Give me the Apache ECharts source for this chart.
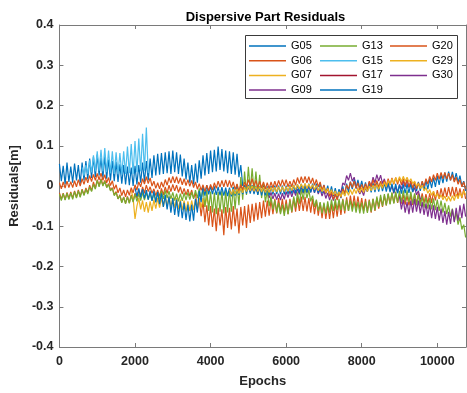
<!DOCTYPE html>
<html>
<head>
<meta charset="utf-8">
<script src="https://cdn.jsdelivr.net/npm/echarts@6/dist/echarts.min.js"></script>
<style>
  html, body { margin: 0; padding: 0; background: #fff; }
  #chart { width: 467px; height: 393px; }
</style>
</head>
<body>
<div id="chart"></div>
<script>
// Sampling grid (epochs) shared by every satellite track
const epochs = [
  0,50,100,150,200,250,300,350,400,450,500,550,600,650,700,750,800,850,900,950,
  1000,1050,1100,1150,1200,1250,1300,1350,1400,1450,1500,1550,1600,1650,1700,1750,1800,1850,1900,1950,
  2000,2050,2100,2150,2200,2250,2300,2350,2400,2450,2500,2550,2600,2650,2700,2750,2800,2850,2900,2950,
  3000,3050,3100,3150,3200,3250,3300,3350,3400,3450,3500,3550,3600,3650,3700,3750,3800,3850,3900,3950,
  4000,4050,4100,4150,4200,4250,4300,4350,4400,4450,4500,4550,4600,4650,4700,4750,4800,4850,4900,4950,
  5000,5050,5100,5150,5200,5250,5300,5350,5400,5450,5500,5550,5600,5650,5700,5750,5800,5850,5900,5950,
  6000,6050,6100,6150,6200,6250,6300,6350,6400,6450,6500,6550,6600,6650,6700,6750,6800,6850,6900,6950,
  7000,7050,7100,7150,7200,7250,7300,7350,7400,7450,7500,7550,7600,7650,7700,7750,7800,7850,7900,7950,
  8000,8050,8100,8150,8200,8250,8300,8350,8400,8450,8500,8550,8600,8650,8700,8750,8800,8850,8900,8950,
  9000,9050,9100,9150,9200,9250,9300,9350,9400,9450,9500,9550,9600,9650,9700,9750,9800,9850,9900,9950,
  10000,10050,10100,10150,10200,10250,10300,10350,10400,10450,10500,10550,10600,10650,10700,10750
];

// Residuals [m] per satellite; each list starts at the given epoch
const g05Start = 0;
const g05 = [
  0.055,0.012,0.050,0.004,0.058,0.010,0.048,0.008,0.056,0.014,
  0.052,0.006,0.058,0.014,0.062,0.016,0.068,0.020,0.072,0.022,
  0.078,0.026,0.070,0.020,0.074,0.018,0.066,0.014,0.062,0.012,
  0.060,0.010,0.054,0.006,0.052,0.004,0.048,0.002,0.046,0.000,
  0.050,0.004,0.052,0.008,0.058,0.010,0.062,0.014,0.068,0.020,
  0.076,0.026,0.080,0.028,0.082,0.030,0.084,0.032,0.086,0.030,
  0.088,0.034,0.084,0.030,0.078,0.024,0.068,0.016,0.058,0.008,
  0.052,0.004,0.056,0.008,0.064,0.018,0.076,0.026,0.082,0.030,
  0.088,0.034,0.090,0.036,0.098,0.040,0.092,0.036,0.088,0.032,
  0.086,0.030,0.084,0.028,0.080,0.022,0.052,0.000];

const g06Start = 0;
const g06 = [
  -0.017,-0.033,-0.018,-0.034,-0.016,-0.031,-0.015,-0.030,-0.012,-0.028,
  -0.010,-0.026,-0.008,-0.022,-0.005,-0.017,0.002,-0.012,0.010,-0.006,
  0.016,0.000,0.018,0.002,0.014,-0.003,0.006,-0.010,-0.004,-0.022,
  -0.014,-0.032,-0.022,-0.040,-0.027,-0.043,-0.026,-0.042,-0.022,-0.038,
  -0.018,-0.030,-0.012,-0.024,-0.002,-0.018,0.002,-0.014,-0.002,-0.018,
  -0.007,-0.024,-0.010,-0.026,-0.006,-0.022,-0.002,-0.018,0.002,-0.014,
  0.004,-0.012,0.002,-0.016,-0.002,-0.020,-0.006,-0.022,-0.008,-0.025,
  -0.010,-0.030,-0.018,-0.058,-0.032,-0.075,-0.038,-0.090,-0.048,-0.098,
  -0.050,-0.102,-0.056,-0.112,-0.054,-0.098,-0.058,-0.122,-0.052,-0.104,
  -0.054,-0.108,-0.050,-0.100,-0.056,-0.118,-0.052,-0.098,-0.050,-0.104,
  -0.046,-0.092,-0.044,-0.088,-0.042,-0.084,-0.040,-0.080,-0.036,-0.076,
  -0.036,-0.074,-0.034,-0.070,-0.032,-0.068,-0.030,-0.066,-0.032,-0.068,
  -0.034,-0.070,-0.032,-0.066,-0.030,-0.064,-0.028,-0.062,-0.026,-0.062,
  -0.027,-0.063,-0.030,-0.066,-0.032,-0.070,-0.036,-0.074,-0.042,-0.080,
  -0.044,-0.082,-0.046,-0.082,-0.044,-0.080,-0.042,-0.076,-0.038,-0.072,
  -0.032,-0.068,-0.028,-0.062,-0.024,-0.056,-0.024,-0.056,-0.026,-0.058,
  -0.030,-0.062,-0.032,-0.064,-0.034,-0.066,-0.032,-0.062,-0.030,-0.056,
  -0.028,-0.052,-0.024,-0.048,-0.020,-0.044,-0.018,-0.042,-0.018,-0.042,
  -0.020,-0.044,-0.022,-0.046,-0.024,-0.048,-0.023,-0.047,-0.021,-0.044,
  -0.018,-0.042,-0.018,-0.042,-0.020,-0.044,-0.018,-0.042,-0.014,-0.036,
  -0.010,-0.032,-0.006,-0.028,-0.004,-0.027,-0.003,-0.026,-0.002,-0.026,
  -0.003,-0.027,-0.006,-0.030,-0.008,-0.032];

const g07Start = 1900;
const g07 = [
  -0.010,-0.030,-0.082,-0.050,-0.030,-0.058,-0.036,-0.064,-0.040,-0.066,
  -0.038,-0.062,-0.034,-0.056,-0.030,-0.054,-0.030,-0.052,-0.028,-0.050,
  -0.026,-0.052,-0.028,-0.054,-0.030,-0.058,-0.034,-0.060,-0.036,-0.064,
  -0.038,-0.062,-0.036,-0.060,-0.034,-0.056,-0.030,-0.054,-0.030,-0.052,
  -0.028,-0.046];

const g09Start = 5500;
const g09 = [
  -0.012,-0.030,-0.016,-0.032,-0.018,-0.034,-0.019,-0.035,-0.018,-0.033,
  -0.014,-0.029,-0.012,-0.027,-0.010,-0.024,-0.007,-0.021,-0.004,-0.018,
  -0.002,-0.017,-0.001,-0.016,0.000,-0.017,-0.002,-0.020,-0.007,-0.025,
  -0.012,-0.031,-0.017,-0.035,-0.020,-0.036,-0.020,-0.032,-0.010,-0.016,
  0.008,0.002,0.026,0.014,0.032,0.012,0.022,0.000,0.004,-0.020,
  -0.010,-0.024,-0.004,-0.014,0.010,0.000,0.022,0.008,0.028,0.012,
  0.027,0.006,0.018,-0.004,0.008,-0.012,0.000,-0.018,-0.002,-0.016,
  0.004,-0.008,0.013,-0.002,0.016,-0.004,0.008,-0.014,-0.004,-0.022,
  -0.012,-0.032,-0.030];

const g13Start = 0;
const g13 = [
  -0.020,-0.036,-0.019,-0.035,-0.018,-0.034,-0.017,-0.033,-0.014,-0.030,
  -0.012,-0.028,-0.010,-0.024,-0.008,-0.020,-0.002,-0.014,0.004,-0.008,
  0.014,-0.002,0.016,0.000,0.012,-0.004,0.004,-0.012,-0.006,-0.024,
  -0.016,-0.032,-0.024,-0.042,-0.028,-0.044,-0.027,-0.043,-0.024,-0.040,
  -0.020,-0.038,-0.019,-0.036,-0.016,-0.035,-0.016,-0.034,-0.017,-0.036,
  -0.019,-0.037,-0.016,-0.034,-0.013,-0.032,-0.011,-0.030,-0.013,-0.032,
  -0.016,-0.036,-0.019,-0.038,-0.019,-0.037,-0.017,-0.035,-0.016,-0.034,
  -0.015,-0.032,-0.010,-0.030,-0.006,-0.034,-0.004,-0.052,-0.010,-0.062,
  -0.014,-0.066,-0.016,-0.070,-0.015,-0.064,-0.012,-0.068,-0.012,-0.066,
  -0.008,-0.064,-0.002,-0.058,0.004,-0.048,0.022,-0.034,0.036,-0.022,
  0.048,-0.012,0.044,-0.016,0.036,-0.022,0.028,-0.030,0.008,-0.040,
  -0.012,-0.050,-0.026,-0.058,-0.036,-0.066,-0.042,-0.070,-0.046,-0.074,
  -0.044,-0.070,-0.036,-0.064,-0.026,-0.054,-0.016,-0.044,-0.008,-0.034,
  -0.004,-0.030,-0.010,-0.038,-0.024,-0.052,-0.034,-0.062,-0.040,-0.068,
  -0.041,-0.069,-0.038,-0.066,-0.034,-0.062,-0.032,-0.060,-0.032,-0.060,
  -0.034,-0.062,-0.034,-0.062,-0.036,-0.064,-0.038,-0.066,-0.040,-0.068,
  -0.041,-0.069,-0.039,-0.067,-0.036,-0.064,-0.032,-0.060,-0.026,-0.052,
  -0.022,-0.050,-0.020,-0.048,-0.018,-0.046,-0.016,-0.044,-0.014,-0.041,
  -0.012,-0.040,-0.011,-0.039,-0.011,-0.040,-0.014,-0.044,-0.018,-0.048,
  -0.022,-0.050,-0.026,-0.054,-0.028,-0.056,-0.030,-0.058,-0.031,-0.060,
  -0.034,-0.062,-0.036,-0.066,-0.042,-0.070,-0.048,-0.076,-0.056,-0.088,
  -0.066,-0.096,-0.078,-0.108,-0.096,-0.128];

const g15Start = 600;
const g15 = [
  0.046,0.026,0.052,0.030,0.064,0.034,0.076,0.036,0.086,0.038,
  0.090,0.036,0.094,0.034,0.088,0.032,0.086,0.030,0.084,0.030,
  0.082,0.028,0.086,0.030,0.098,0.032,0.104,0.030,0.112,0.034,
  0.118,0.036,0.130,0.038,0.145,0.032];

const g17Start = 5000;
const g17 = [-0.004,-0.014,-0.002,-0.016,-0.003,-0.018,-0.004,-0.015,-0.002,-0.014,-0.005,-0.016,-0.006];

const g19Start = 2000;
const g19 = [
  -0.004,-0.026,-0.006,-0.028,-0.008,-0.031,-0.010,-0.034,-0.012,-0.037,
  -0.013,-0.041,-0.015,-0.045,-0.018,-0.052,-0.022,-0.058,-0.026,-0.066,
  -0.030,-0.072,-0.034,-0.076,-0.038,-0.080,-0.042,-0.084,-0.046,-0.088,
  -0.046,-0.086,-0.032,-0.066,-0.012,-0.040,0.000,-0.024,0.002,-0.021,
  0.000,-0.020,-0.001,-0.022,-0.002,-0.023,-0.003,-0.024,-0.004,-0.025,
  -0.004,-0.026,-0.003,-0.024,0.000,-0.022,0.001,-0.020,0.002,-0.019,
  0.003,-0.019,0.002,-0.020,0.000,-0.022,-0.001,-0.023,-0.002,-0.023,
  -0.001,-0.023,0.000,-0.021,0.001,-0.020,0.001,-0.021,0.001,-0.021,
  0.001,-0.020,0.002,-0.019,0.003,-0.018,0.004,-0.017,0.005,-0.016,
  0.006,-0.016,0.006,-0.016,0.006,-0.016,0.006,-0.017,0.005,-0.018,
  0.003,-0.019,0.001,-0.022,-0.001,-0.025,-0.005,-0.028,-0.008,-0.030,
  -0.001,-0.024,0.006,-0.016,0.011,-0.008,0.016,-0.006,0.015,-0.008,
  0.013,-0.010,0.009,-0.014,0.006,-0.016,0.007,-0.015,0.008,-0.014,
  0.009,-0.013,0.008,-0.014,0.007,-0.015,0.006,-0.016,0.005,-0.018,
  0.003,-0.019,0.004,-0.018,0.005,-0.017,0.006,-0.015,0.008,-0.013,
  0.010,-0.012,0.011,-0.010,0.014,-0.008,0.017,-0.005,0.021,-0.002,
  0.025,0.003,0.029,0.007,0.033,0.011,0.036,0.014,0.035,0.012,
  0.032,0.009,0.026,0.000,0.012,-0.012];

const g20Start = 0;
const g20 = [
  0.008,-0.007,0.010,-0.005,0.012,-0.004,0.011,-0.004,0.013,-0.002,
  0.016,0.000,0.018,0.004,0.022,0.008,0.026,0.011,0.029,0.014,
  0.031,0.015,0.032,0.014,0.028,0.008,0.021,0.001,0.013,-0.008,
  0.003,-0.017,-0.005,-0.024,-0.010,-0.027,-0.010,-0.023,-0.004,-0.017,
  0.003,-0.010,0.010,-0.002,0.018,0.005,0.023,0.006,0.020,0.000,
  0.012,-0.006,0.008,-0.007,0.010,-0.003,0.016,0.002,0.021,0.007,
  0.024,0.008,0.023,0.006,0.020,0.003,0.018,0.001,0.016,-0.001,
  0.014,-0.004,0.010,-0.008,0.006,-0.011,0.003,-0.014,0.002,-0.012,
  0.004,-0.010,0.008,-0.006,0.012,-0.003,0.014,-0.002,0.015,-0.002,
  0.014,-0.004,0.010,-0.009,0.005,-0.013,0.003,-0.010,0.010,-0.002,
  0.016,0.001,0.018,0.000,0.014,-0.004,0.012,-0.005,0.010,-0.007,
  0.008,-0.007,0.010,-0.005,0.012,-0.003,0.014,-0.001,0.016,0.000,
  0.016,-0.002,0.012,-0.002,0.016,0.002,0.021,0.006,0.023,0.008,
  0.024,0.008,0.023,0.006,0.020,0.002,0.016,-0.002,0.010,-0.010,
  0.002,-0.018,-0.006,-0.026,-0.014,-0.033,-0.020,-0.035,-0.017,-0.028,
  -0.007,-0.018,0.003,-0.008,0.010,-0.004,0.012,-0.006,0.008,-0.010,
  0.004,-0.011,0.006,-0.008,0.012,-0.002,0.016,-0.001,0.014,-0.003,
  0.012,-0.003,0.014,0.000,0.018,0.003,0.020,0.004,0.021,0.004,
  0.020,0.003,0.018,0.001,0.016,-0.002,0.013,-0.005,0.010,-0.007,
  0.008,-0.006,0.012,-0.001,0.018,0.005,0.024,0.010,0.028,0.014,
  0.032,0.017,0.034,0.018,0.034,0.017,0.032,0.014,0.028,0.010,
  0.022,0.004,0.016,-0.002,0.010,-0.008];

const g29Start = 4500;
const g29 = [
  -0.009,-0.021,-0.008,-0.020,-0.007,-0.019,-0.005,-0.017,-0.003,-0.014,
  0.000,-0.012,0.000,-0.013,-0.001,-0.014,-0.002,-0.015,-0.003,-0.016,
  -0.004,-0.016,-0.003,-0.015,-0.003,-0.015,-0.002,-0.014,-0.002,-0.014,
  -0.002,-0.013,0.000,-0.011,0.002,-0.009,0.004,-0.007,0.005,-0.006,
  0.006,-0.006,0.005,-0.007,0.003,-0.009,0.001,-0.012,-0.002,-0.014,
  -0.004,-0.016,-0.006,-0.019,-0.009,-0.022,-0.012,-0.025,-0.014,-0.026,
  -0.013,-0.025,-0.011,-0.023,-0.009,-0.021,-0.007,-0.019,-0.005,-0.017,
  -0.004,-0.016,-0.002,-0.014,0.000,-0.012,0.002,-0.010,0.004,-0.008,
  0.006,-0.006,0.010,-0.002,0.014,0.002,0.018,0.006,0.021,0.009,
  0.023,0.011,0.024,0.012,0.022,0.010,0.018,0.006,0.012,0.000,
  0.006,-0.006,0.002,-0.012,-0.004,-0.018,-0.009,-0.023,-0.013,-0.027,
  -0.019,-0.031,-0.022,-0.034,-0.025,-0.038,-0.026,-0.038,-0.024,-0.036,
  -0.020,-0.032,-0.016,-0.028,-0.012,-0.022];

const g30Start = 9000;
const g30 = [
  -0.026,-0.058,-0.034,-0.066,-0.040,-0.070,-0.036,-0.066,-0.032,-0.064,
  -0.036,-0.068,-0.040,-0.072,-0.044,-0.076,-0.046,-0.080,-0.048,-0.082,
  -0.052,-0.086,-0.056,-0.092,-0.062,-0.096,-0.064,-0.094,-0.058,-0.090,
  -0.054,-0.086,-0.048,-0.080,-0.044,-0.076];

const satellites = ['G05','G06','G07','G09','G13','G15','G17','G19','G20','G29','G30'];
const tracks = [
  [g05Start, g05], [g06Start, g06], [g07Start, g07], [g09Start, g09], [g13Start, g13], [g15Start, g15],
  [g17Start, g17], [g19Start, g19], [g20Start, g20], [g29Start, g29], [g30Start, g30]
];

// Legend columns
const legendCol1 = ['G05','G06','G07','G09'];
const legendCol2 = ['G13','G15','G17','G19'];
const legendCol3 = ['G20','G29','G30'];

// Axis ranges: [min, max, step]
const xTicks = [0, 10760, 2000];
const yTicks = [-0.4, 0.4, 0.1];

// Default line colour order
const palette = ['#0072BD','#D95319','#EDB120','#7E2F8E','#77AC30','#4DBEEE','#A2142F'];

function onGrid(startEpoch, values) {
  const i0 = epochs.indexOf(startEpoch);
  return values.map((v, k) => [epochs[i0 + k], v]);
}

const font = '"Liberation Sans", Arial, Helvetica, sans-serif';
const axisGray = '#7a7a7a';
const textDark = '#262626';

const series = satellites.map((name, i) => ({
  name: name,
  type: 'line',
  data: onGrid(tracks[i][0], tracks[i][1]),
  showSymbol: false,
  symbol: 'none',
  lineStyle: { width: 1.2, color: palette[i % palette.length] },
  itemStyle: { color: palette[i % palette.length] },
  emphasis: { disabled: true },
  animation: false
}));

function legendColumn(data, left) {
  return {
    data: data,
    orient: 'vertical',
    left: left,
    top: 40,
    icon: 'rect',
    itemWidth: 37,
    itemHeight: 1.5,
    itemGap: 2.7,
    selectedMode: false,
    textStyle: { fontFamily: font, fontSize: 11, color: '#000', lineHeight: 12 },
    padding: 0
  };
}

const chart = echarts.init(document.getElementById('chart'), null, { renderer: 'canvas' });
chart.setOption({
  animation: false,
  backgroundColor: '#fff',
  title: {
    text: 'Dispersive Part Residuals',
    left: 260.5,
    top: 6,
    textAlign: 'center',
    textStyle: { fontFamily: font, fontSize: 13, fontWeight: 'bold', color: '#000' }
  },
  grid: { left: 55, right: 1, top: 25, bottom: 42, containLabel: false },
  legend: [legendColumn(legendCol1, 249), legendColumn(legendCol2, 320), legendColumn(legendCol3, 390)],
  graphic: [{
    type: 'rect',
    shape: { x: 245.5, y: 35.5, width: 212, height: 63 },
    style: { fill: 'none', stroke: '#3a3a3a', lineWidth: 1 },
    z: 10
  }],
  xAxis: [{
    type: 'value',
    min: xTicks[0], max: xTicks[1], interval: xTicks[2],
    name: 'Epochs', nameLocation: 'middle', nameGap: 28,
    nameTextStyle: { fontFamily: font, fontSize: 13, fontWeight: 'bold', color: textDark },
    axisLine: { show: true, onZero: false, lineStyle: { color: axisGray, width: 1 } },
    axisTick: { show: true, inside: true, length: 4, lineStyle: { color: axisGray } },
    axisLabel: { fontFamily: font, fontSize: 12.5, fontWeight: 'bold', color: textDark, margin: 8,
      showMaxLabel: false, formatter: v => String(v) },
    splitLine: { show: false }
  }, {
    type: 'value', position: 'top',
    min: xTicks[0], max: xTicks[1], interval: xTicks[2],
    axisLine: { show: true, onZero: false, lineStyle: { color: axisGray, width: 1 } },
    axisTick: { show: true, inside: true, length: 4, lineStyle: { color: axisGray } },
    axisLabel: { show: false },
    splitLine: { show: false }
  }],
  yAxis: [{
    type: 'value',
    min: yTicks[0], max: yTicks[1], interval: yTicks[2],
    name: 'Residuals[m]', nameLocation: 'middle', nameGap: 31,
    nameTextStyle: { fontFamily: font, fontSize: 13, fontWeight: 'bold', color: textDark },
    axisLine: { show: true, onZero: false, lineStyle: { color: axisGray, width: 1 } },
    axisTick: { show: true, inside: true, length: 4, lineStyle: { color: axisGray } },
    axisLabel: { fontFamily: font, fontSize: 12.5, fontWeight: 'bold', color: textDark, margin: 6,
      formatter: v => (Math.abs(v) < 1e-9 ? '0' : (Math.round(v * 10) / 10).toString()) },
    splitLine: { show: false }
  }, {
    type: 'value', position: 'right',
    min: yTicks[0], max: yTicks[1], interval: yTicks[2],
    axisLine: { show: true, onZero: false, lineStyle: { color: axisGray, width: 1 } },
    axisTick: { show: true, inside: true, length: 4, lineStyle: { color: axisGray } },
    axisLabel: { show: false },
    splitLine: { show: false }
  }],
  series: series
});
</script>
</body>
</html>
